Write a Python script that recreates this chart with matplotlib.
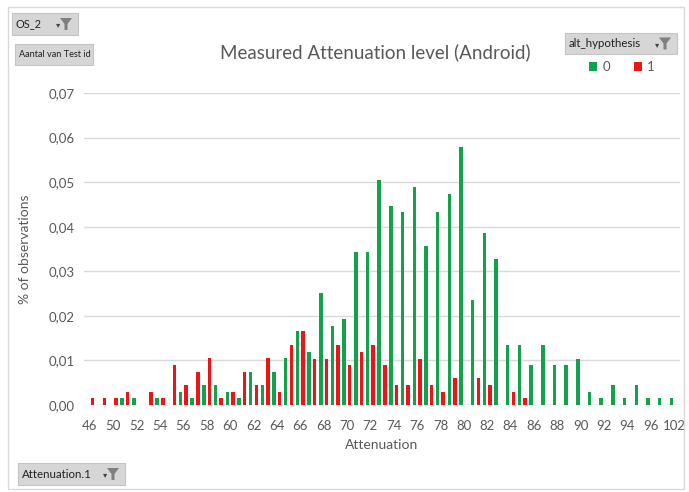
import matplotlib.pyplot as plt
import numpy as np
from matplotlib.patches import Rectangle, Polygon
from matplotlib.ticker import FuncFormatter

plt.rcParams['font.family'] = ['Lato', 'DejaVu Sans']

W, H = 689, 492

# attenuation levels present in the pivot (48 and 98 are hidden behind every-other labels)
attenuation = [46, 48, 50, 51, 52, 53, 54, 55, 56, 57, 58, 59, 60, 61, 62, 63, 64,
               65, 66, 67, 68, 69, 70, 71, 72, 73, 74, 75, 76, 77, 78, 79, 80, 81,
               82, 83, 84, 85, 86, 87, 88, 89, 90, 91, 92, 93, 94, 95, 96, 98, 102]
share_h0 = [0, 0, 0, 0.0015, 0.0015, 0, 0.0015, 0, 0.003, 0.0015, 0.0045, 0.0045,
            0.003, 0.0015, 0.0075, 0.0045, 0.0075, 0.0105, 0.0165, 0.0118, 0.0252,
            0.0177, 0.0192, 0.0343, 0.0343, 0.0505, 0.0447, 0.0432, 0.0489, 0.0357,
            0.0432, 0.0473, 0.0578, 0.0236, 0.0387, 0.0327, 0.0134, 0.0134, 0.0089,
            0.0134, 0.0089, 0.0089, 0.0104, 0.003, 0.0015, 0.0045, 0.0015, 0.0045,
            0.0015, 0.0015, 0.0015]
share_h1 = [0.0015, 0.0015, 0.0015, 0.003, 0, 0.003, 0.0015, 0.009, 0.0045, 0.0075,
            0.0105, 0.0015, 0.003, 0.0075, 0.0045, 0.0105, 0.003, 0.0135, 0.0165,
            0.0104, 0.0104, 0.0134, 0.0089, 0.0119, 0.0134, 0.0089, 0.0045, 0.0045,
            0.0104, 0.0045, 0.003, 0.006, 0, 0.006, 0.0045, 0, 0.003, 0.0015, 0, 0,
            0, 0, 0, 0, 0, 0, 0, 0, 0, 0, 0]
yticks = [0, 0.01, 0.02, 0.03, 0.04, 0.05, 0.06, 0.07]

GREEN = '#12A24C'
RED = '#EC1414'
GREY_TXT = '#595959'

fig = plt.figure(figsize=(W / 100, H / 100), dpi=100)
ax = fig.add_axes([84 / W, (H - 405) / H, (680 - 84) / W, (405 - 93) / H])

x = np.arange(len(attenuation))
b0 = ax.bar(x - 0.24, share_h0, width=0.3, color=GREEN, label='0', zorder=3)
b1 = ax.bar(x + 0.24, share_h1, width=0.3, color=RED, label='1', zorder=3)

ax.set_xlim(-0.5, len(attenuation) - 0.5)
ax.set_ylim(0, 0.07)
ax.set_yticks(yticks)
ax.yaxis.set_major_formatter(FuncFormatter(lambda v, p: ('%.2f' % v).replace('.', ',')))
ax.set_xticks(x[::2])
ax.set_xticklabels([str(a) for a in attenuation[::2]])
ax.tick_params(length=0, labelsize=9.5, colors=GREY_TXT)
ax.tick_params(axis='x', pad=11)
ax.tick_params(axis='y', pad=7)
ax.grid(axis='y', color='#D9D9D9', linewidth=1, zorder=0)
for s in ax.spines.values():
    s.set_visible(False)

ax.set_xlabel('Attenuation', fontsize=10, color=GREY_TXT, labelpad=5)
ax.set_ylabel('% of observations', fontsize=10, color=GREY_TXT, labelpad=12)

fig.text(375 / W, 1 - 52 / H, 'Measured Attenuation level (Android)', fontsize=13.5,
         color=GREY_TXT, ha='center', va='center')

leg = fig.legend(handles=[b0, b1], ncol=2, frameon=False, fontsize=9.5,
                 loc='center', bbox_to_anchor=(622 / W, 1 - 67 / H),
                 handlelength=0.6, handleheight=0.6, handletextpad=0.4,
                 columnspacing=1.8)
for t in leg.get_texts():
    t.set_color(GREY_TXT)

# outer chart border
fig.patches.append(Rectangle((8 / W, 1 - 489 / H), 676 / W, 482 / H, transform=fig.transFigure,
                             fill=False, ec='#D9D9D9', lw=1))


def field_button(x0, y0, x1, y1, label, funnel=True, size=8.3):
    fig.patches.append(Rectangle((x0 / W, 1 - y1 / H), (x1 - x0) / W, (y1 - y0) / H,
                                 transform=fig.transFigure, fc='#D6D6D6', ec='#C4C4C4', lw=0.8))
    yc = (y0 + y1) / 2
    fig.text((x0 + 4) / W, 1 - yc / H, label, fontsize=size, color='#222222',
             ha='left', va='center')
    if funnel:
        fx = x1 - 12
        fig.text((fx - 8) / W, 1 - (yc + 1) / H, '\u25be', fontsize=6, color='#444444',
                 ha='center', va='center')
        pts = [(fx - 6, yc - 6), (fx + 6, yc - 6), (fx + 1.5, yc), (fx + 1.5, yc + 6),
               (fx - 1.5, yc + 6), (fx - 1.5, yc)]
        fig.patches.append(Polygon([(px / W, 1 - py / H) for px, py in pts], closed=True,
                                   transform=fig.transFigure, fc='#7F7F7F', ec='none'))


field_button(12, 13, 78, 35, 'OS_2', size=7.8)
field_button(15, 44, 93, 65, 'Aantal van Test id', funnel=False, size=6.6)
field_button(565, 33, 677, 54, 'alt_hypothesis')
field_button(18, 463, 125, 485, 'Attenuation.1')

fig.savefig('out.png', dpi=100)
